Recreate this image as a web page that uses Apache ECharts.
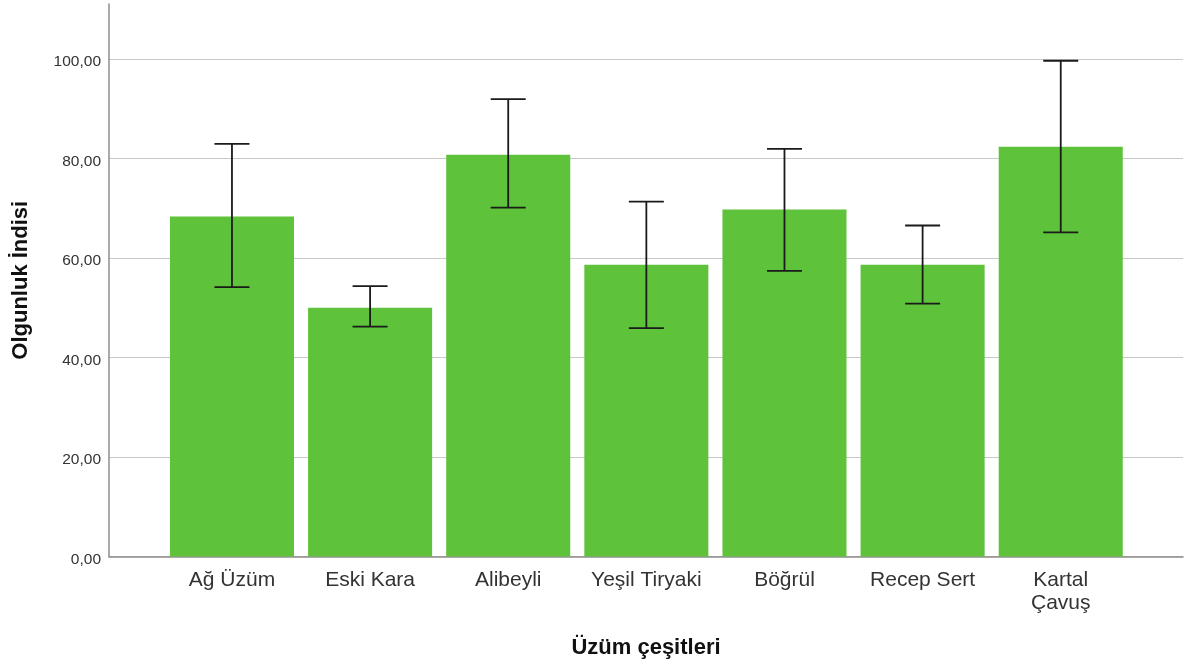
<!DOCTYPE html>
<html><head><meta charset="utf-8">
<script src="https://cdn.jsdelivr.net/npm/echarts@6/dist/echarts.min.js"></script>
<style>html,body{margin:0;padding:0;background:#fff}#c{width:1186px;height:666px}</style>
</head><body><div id="c"></div>
<script>
const categories = ['Ağ Üzüm','Eski Kara','Alibeyli','Yeşil Tiryaki','Böğrül','Recep Sert','Kartal Çavuş'];
const means = [68.3, 50.0, 80.7, 58.6, 69.7, 58.6, 82.3];
const upper = [82.9, 54.3, 91.9, 71.3, 81.9, 66.5, 99.6];
const lower = [54.1, 46.2, 70.1, 45.9, 57.4, 50.8, 65.1];
const yTicks = [0, 20, 40, 60, 80, 100];

const FONT = '"Liberation Sans", Arial, sans-serif';
const chart = echarts.init(document.getElementById('c'), null, {renderer:'canvas'});
const errData = categories.map((c,i)=>[i, lower[i], upper[i]]);
chart.setOption({
  animation:false,
  grid:[
    {left:109, right:3, top:4, bottom:109.5},
    {left:162.9, width:966.9, top:4, bottom:109.5}
  ],
  xAxis:[
    {gridIndex:0, type:'category', data:[''], axisLine:{lineStyle:{color:'#8c8c8c', width:1.5}}, axisTick:{show:false}, axisLabel:{show:false},
     name:'Üzüm çeşitleri', nameLocation:'middle', nameGap:80.5,
     nameTextStyle:{fontFamily:FONT, fontWeight:'bold', fontSize:22, color:'#111'}},
    {gridIndex:1, type:'category', data:categories, axisLine:{show:false}, axisTick:{show:false},
     axisLabel:{fontFamily:FONT, fontSize:21, color:'#333', margin:12, interval:0, lineHeight:23,
       formatter:v=> v==='Kartal Çavuş' ? v.replace(' ','\n') : v}}
  ],
  yAxis:[
    {gridIndex:0, type:'value', min:0, max:111, interval:20,
     axisLine:{show:true, lineStyle:{color:'#8c8c8c', width:1.5}}, axisTick:{show:false},
     axisLabel:{fontFamily:FONT, fontSize:15.5, color:'#333', margin:8, showMaxLabel:false,
       formatter:v=> yTicks.includes(v) ? '{a|' + v.toFixed(2).replace('.',',') + '}' : '',
       rich:{a:{fontFamily:FONT, fontSize:15.5, color:'#333', padding:[6,0,0,0]}}},
     splitLine:{show:true, lineStyle:{color:['#c8c8c8','#c8c8c8','#c8c8c8','#c8c8c8','#c8c8c8','#c8c8c8','rgba(0,0,0,0)'], width:1.2}},
     name:'Olgunluk İndisi', nameLocation:'middle', nameGap:77, nameRotate:90,
     nameTextStyle:{fontFamily:FONT, fontWeight:'bold', fontSize:22, color:'#111'}},
    {gridIndex:1, type:'value', min:0, max:111, show:false, splitLine:{show:false}}
  ],
  series:[
    {type:'bar', xAxisIndex:1, yAxisIndex:1, data:means, barCategoryGap:'10.2%',
     itemStyle:{color:'#5ec23a'}, z:2},
    {type:'custom', xAxisIndex:1, yAxisIndex:1, data:errData, z:5,
     renderItem:(params, api)=>{
       const x = api.value(0);
       const lo = api.coord([x, api.value(1)]);
       const hi = api.coord([x, api.value(2)]);
       const hw = 17.5;
       const st = {stroke:'#1a1a1a', lineWidth:1.8};
       return {type:'group', children:[
         {type:'line', shape:{x1:hi[0], y1:hi[1], x2:lo[0], y2:lo[1]}, style:st},
         {type:'line', shape:{x1:hi[0]-hw, y1:hi[1], x2:hi[0]+hw, y2:hi[1]}, style:st},
         {type:'line', shape:{x1:lo[0]-hw, y1:lo[1], x2:lo[0]+hw, y2:lo[1]}, style:st}
       ]};
     }}
  ]
});
</script></body></html>
